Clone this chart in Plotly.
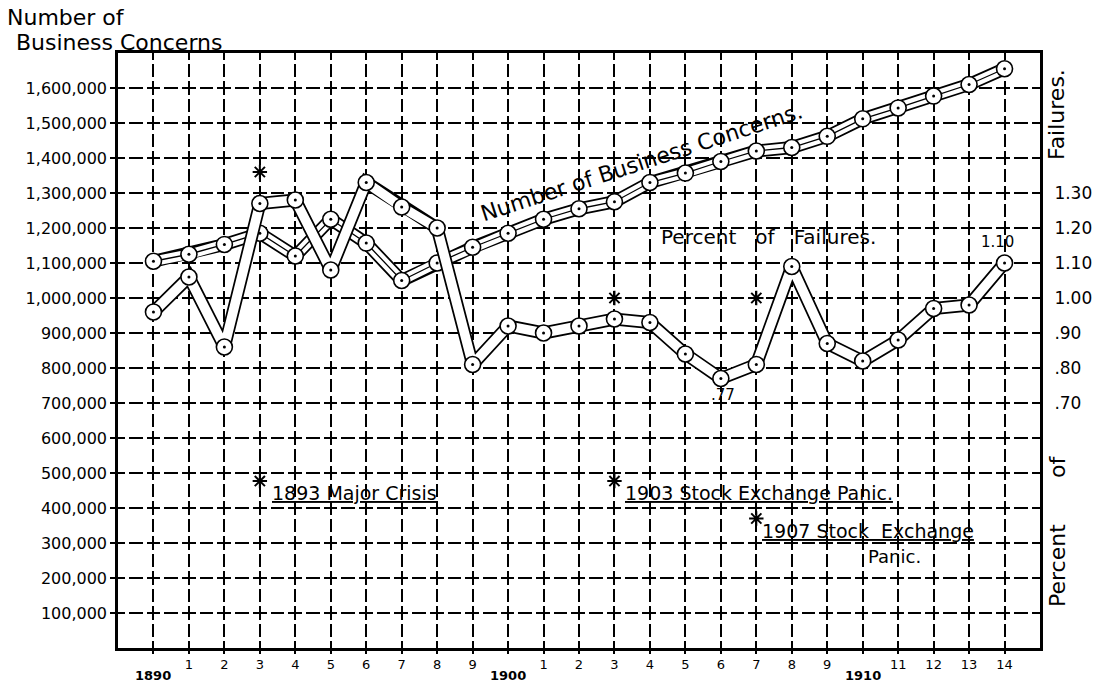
import plotly.graph_objects as go

# ---------------- data ----------------
years = list(range(1890, 1915))
business_concerns = [1105000, 1125000, 1153000, 1185000, 1120000, 1225000, 1157000, 1050000,
                     1100000, 1145000, 1185000, 1225000, 1255000, 1275000, 1330000, 1357000,
                     1390000, 1420000, 1430000, 1462000, 1512000, 1543000, 1577000, 1610000,
                     1655000]
failure_percent = [0.96, 1.06, 0.86, 1.27, 1.28, 1.08, 1.33, 1.26, 1.20, 0.81, 0.92, 0.90,
                   0.92, 0.94, 0.93, 0.84, 0.77, 0.81, 1.09, 0.87, 0.82, 0.88, 0.97, 0.98, 1.10]

crisis_years = [1893, 1903, 1907]
crisis_marks_upper = [1.36, 1.00, 1.00]          # on the percent scale
crisis_marks_lower = [477000, 477000, 370000]    # on the concerns scale

x_tickvals = years
x_ticktext = ["", "1", "2", "3", "4", "5", "6", "7", "8", "9",
              "", "1", "2", "3", "4", "5", "6", "7", "8", "9",
              "", "11", "12", "13", "14"]
decade_years = [1890, 1900, 1910]
decade_labels = ["1890", "1900", "1910"]
left_tickvals = [100000 * i for i in range(1, 17)]
left_ticktext = ["{:,}".format(v) for v in left_tickvals]
right_tickvals = [0.70, 0.80, 0.90, 1.00, 1.10, 1.20, 1.30]
right_ticktext = [".70", ".80", ".90", "1.00", "1.10", "1.20", "1.30"]

FONT = "DejaVu Sans"
INK = "black"

fig = go.Figure()

# business concerns tube (triple line)
fig.add_trace(go.Scatter(x=years, y=business_concerns, mode="lines",
                         line=dict(color=INK, width=13), hoverinfo="skip", showlegend=False))
fig.add_trace(go.Scatter(x=years, y=business_concerns, mode="lines",
                         line=dict(color="white", width=9.5), hoverinfo="skip", showlegend=False))
fig.add_trace(go.Scatter(x=years, y=business_concerns, mode="lines",
                         line=dict(color=INK, width=1.3), hoverinfo="skip", showlegend=False))

# failures tube (double line)
fig.add_trace(go.Scatter(x=years, y=failure_percent, yaxis="y2", mode="lines",
                         line=dict(color=INK, width=13), hoverinfo="skip", showlegend=False))
fig.add_trace(go.Scatter(x=years, y=failure_percent, yaxis="y2", mode="lines",
                         line=dict(color="white", width=9.5), hoverinfo="skip", showlegend=False))

# circle markers with a centre dot
for ys, ax in ((business_concerns, "y"), (failure_percent, "y2")):
    fig.add_trace(go.Scatter(x=years, y=ys, yaxis=ax, mode="markers",
                             marker=dict(symbol="circle", size=16, color="white",
                                         line=dict(color=INK, width=1.6)),
                             showlegend=False))
    fig.add_trace(go.Scatter(x=years, y=ys, yaxis=ax, mode="markers",
                             marker=dict(symbol="circle", size=3, color=INK),
                             hoverinfo="skip", showlegend=False))

# crisis asterisks
fig.add_trace(go.Scatter(x=crisis_years, y=crisis_marks_upper, yaxis="y2", mode="markers",
                         marker=dict(symbol="asterisk-open", size=12, color=INK,
                                     line=dict(color=INK, width=2)),
                         showlegend=False))
fig.add_trace(go.Scatter(x=crisis_years, y=crisis_marks_lower, mode="markers",
                         marker=dict(symbol="asterisk-open", size=12, color=INK,
                                     line=dict(color=INK, width=2)),
                         showlegend=False))

grid_h = "6.9px,4px,6.8px,0px"   # dash centred on every crossing (x spacing 35.5px)
grid_v = "6.75px,4px,6.75px,0px"  # y spacing 35px

fig.update_layout(
    width=1100, height=687,
    margin=dict(l=118, r=60, t=53, b=39, autoexpand=False),
    paper_bgcolor="white", plot_bgcolor="white",
    font=dict(family=FONT, color=INK, size=14),
    xaxis=dict(range=[1889, 1915], tickvals=x_tickvals, ticktext=x_ticktext,
               showgrid=True, gridcolor=INK, gridwidth=2, griddash=grid_v, automargin=False,
               zeroline=False, showline=True, linecolor=INK, linewidth=2.5, mirror=True,
               ticks="outside", ticklen=3, tickwidth=1.5, tickcolor=INK,
               tickfont=dict(family=FONT, size=13)),
    yaxis=dict(range=[0, 1700000], tickvals=left_tickvals, ticktext=left_ticktext,
               showgrid=True, gridcolor=INK, gridwidth=2, griddash=grid_h, automargin=False,
               zeroline=False, showline=True, linecolor=INK, linewidth=2.5, mirror=True,
               ticks="outside", ticklen=5, tickwidth=2, tickcolor=INK,
               tickfont=dict(family=FONT, size=16)),
    yaxis2=dict(range=[0, 1.7], overlaying="y", side="right", tickvals=right_tickvals,
                ticktext=right_ticktext, showgrid=False, zeroline=False, automargin=False,
                ticks="outside", ticklen=10, tickcolor="rgba(0,0,0,0)",
                tickfont=dict(family=FONT, size=17)),
)

ann = []
for yr, lab in zip(decade_years, decade_labels):
    ann.append(dict(x=yr, xref="x", yref="paper", y=(648 - 675) / 595, text="<b>" + lab + "</b>",
                    showarrow=False, yanchor="middle", font=dict(family=FONT, size=13)))
ann.append(dict(xref="paper", yref="paper", x=(5 - 118) / 922, y=(648 - 18) / 595,
                xanchor="left", yanchor="middle", text="Number of", showarrow=False,
                font=dict(family=FONT, size=22)))
ann.append(dict(xref="paper", yref="paper", x=(14 - 118) / 922, y=(648 - 42) / 595,
                xanchor="left", yanchor="middle", text="Business Concerns", showarrow=False,
                font=dict(family=FONT, size=22)))
# right title pieces
for txt, py in (("Failures.", 115), ("of", 467), ("Percent", 566)):
    ann.append(dict(xref="paper", yref="paper", x=(1057 - 118) / 922, y=(648 - py) / 595,
                    xanchor="center", yanchor="middle", text=txt, textangle=-90,
                    showarrow=False, font=dict(family=FONT, size=22)))
ann.append(dict(x=1903.75, y=1388000, text="Number of Business Concerns.", textangle=-18,
                showarrow=False, font=dict(family=FONT, size=22)))
ann.append(dict(x=1907.33, y=1174000, text="Percent   of   Failures.", showarrow=False,
                font=dict(family=FONT, size=20)))
ann.append(dict(x=1914.0, y=1723000, text="1,655,000", showarrow=False,
                font=dict(family=FONT, size=17)))
ann.append(dict(x=1906.05, y=0.723, yref="y2", text=".77", showarrow=False,
                font=dict(family=FONT, size=15)))
ann.append(dict(x=1913.8, y=1.16, yref="y2", text="1.10", showarrow=False,
                font=dict(family=FONT, size=15)))
UL = '<span style="text-decoration:underline">{}</span>'
ann.append(dict(x=1893.3, y=443000, xanchor="left", text=UL.format("1893 Major Crisis"),
                showarrow=False, font=dict(family=FONT, size=19)))
ann.append(dict(x=1903.25, y=443000, xanchor="left",
                text=UL.format("1903 Stock Exchange Panic."),
                showarrow=False, font=dict(family=FONT, size=19)))
ann.append(dict(x=1907.1, y=334000, xanchor="left", text=UL.format("1907 Stock  Exchange"),
                showarrow=False, font=dict(family=FONT, size=19)))
ann.append(dict(x=1910.9, y=262000, text="Panic.", showarrow=False,
                font=dict(family=FONT, size=18)))
fig.update_layout(annotations=ann)

fig.write_html("out.html", config={"displayModeBar": False},
               post_script="document.body.style.margin='0';")
